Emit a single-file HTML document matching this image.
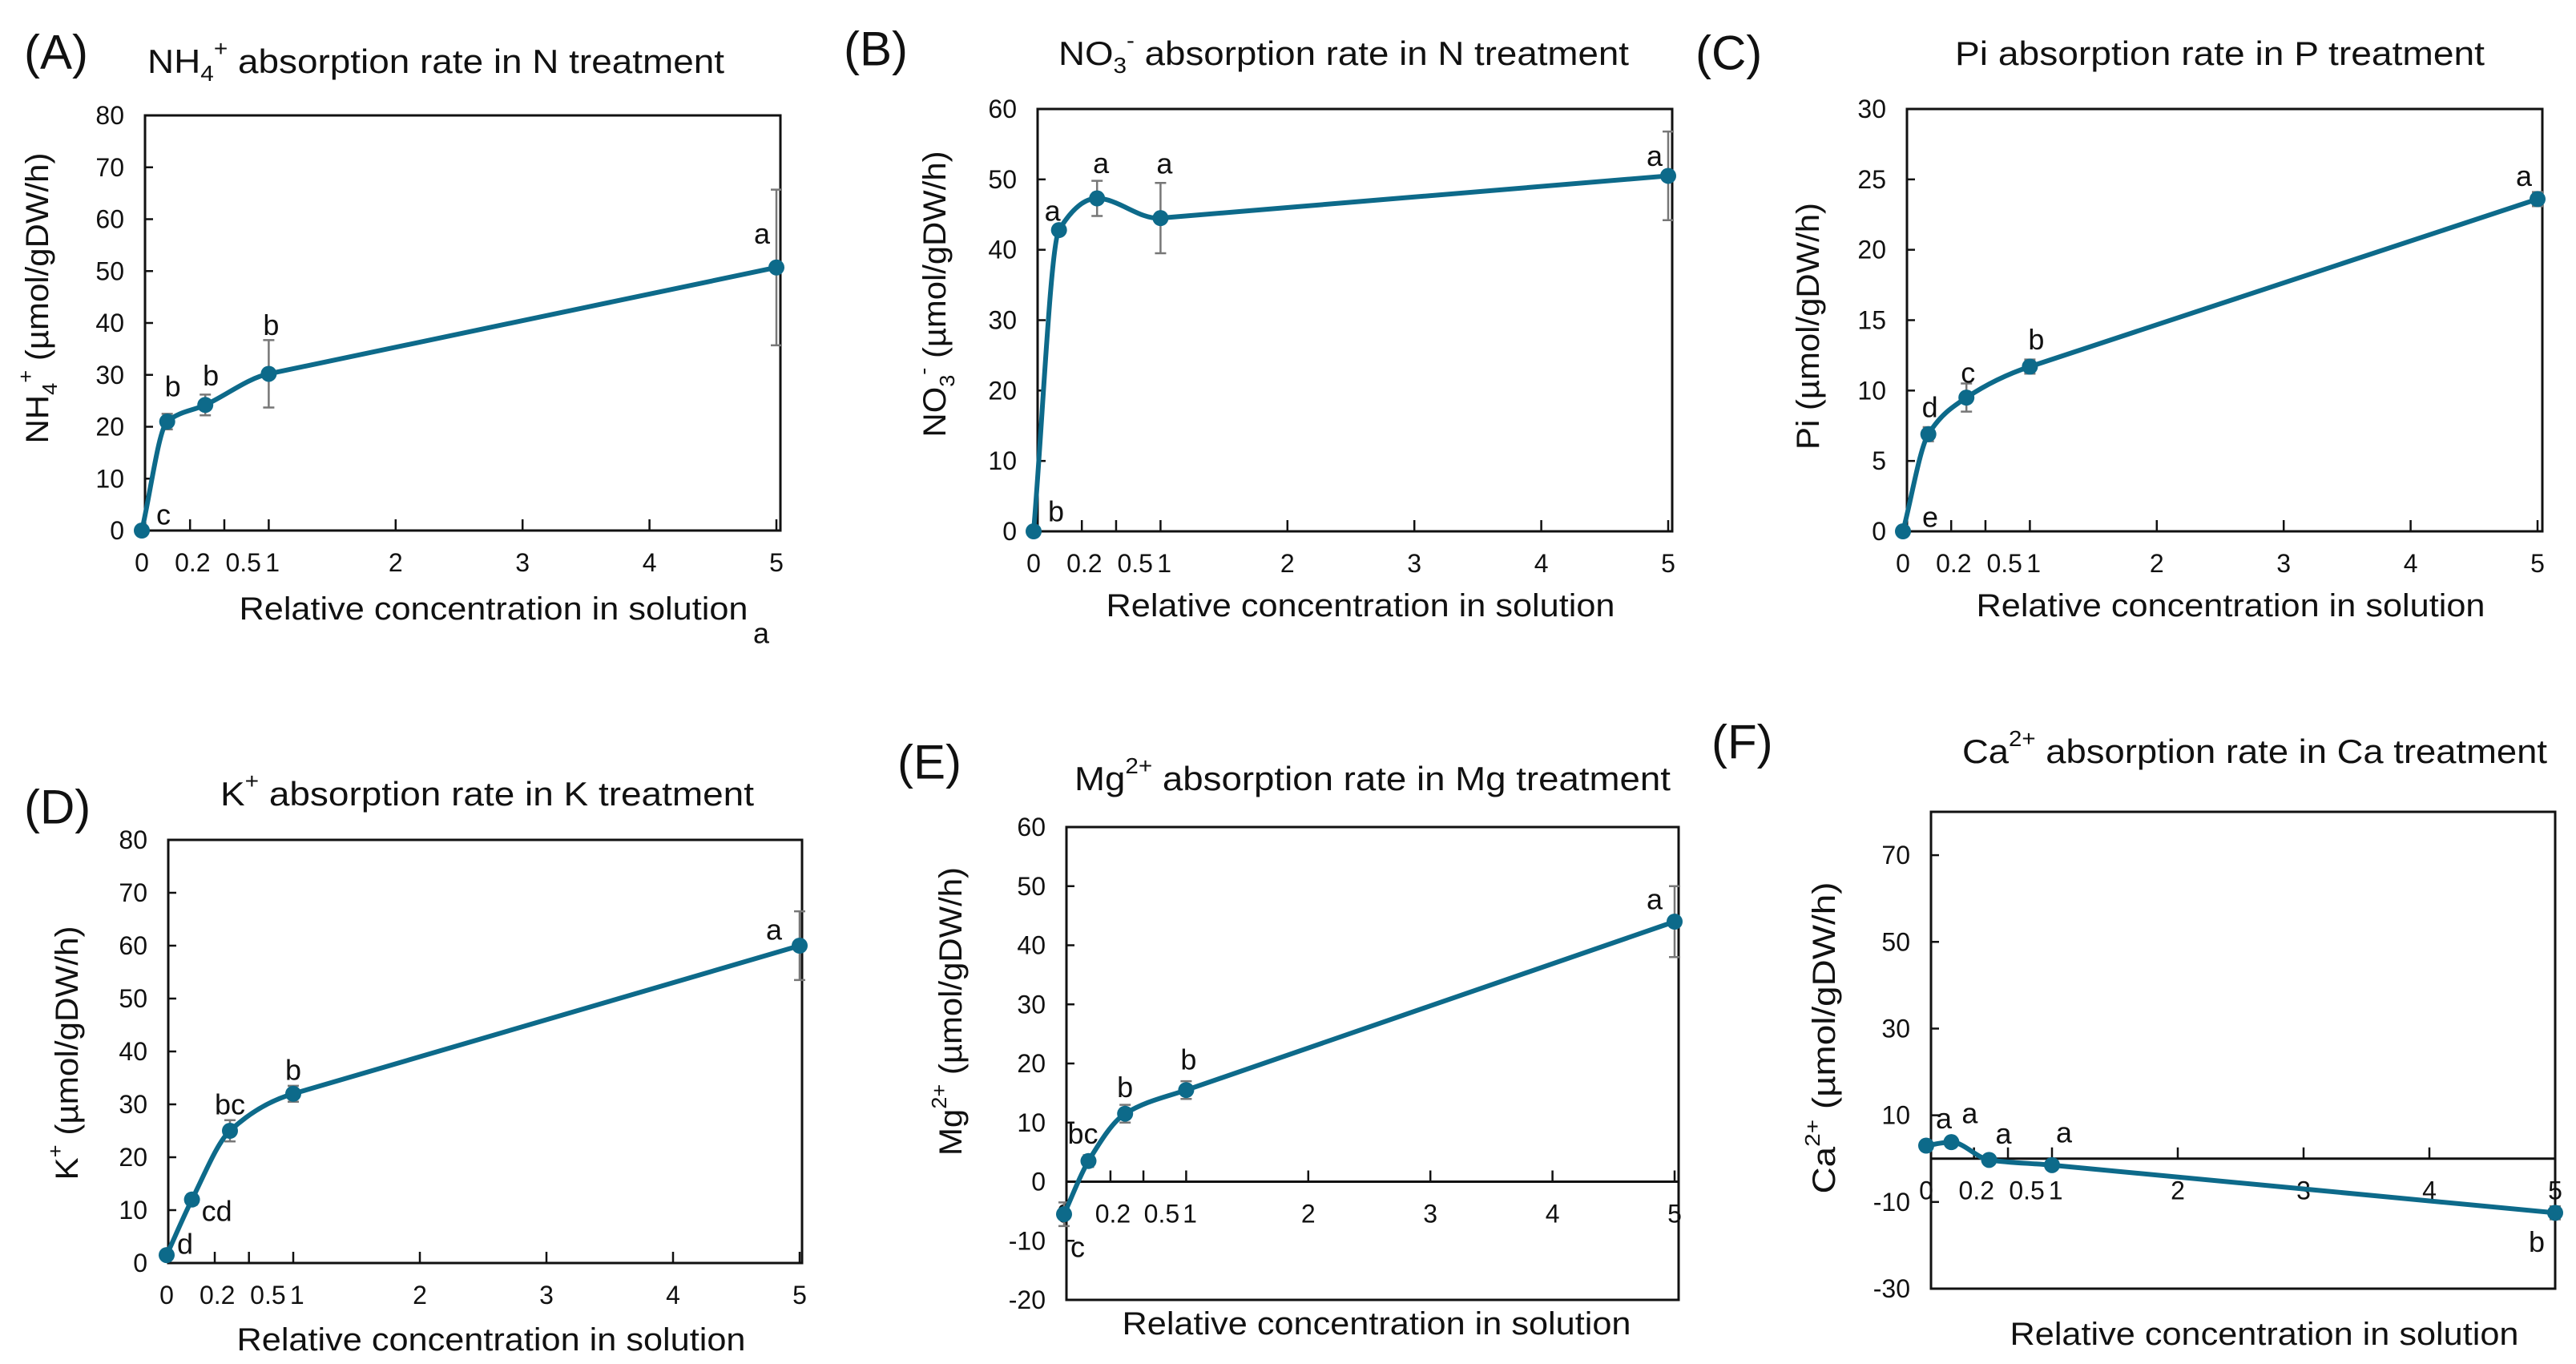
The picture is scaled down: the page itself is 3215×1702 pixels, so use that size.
<!DOCTYPE html>
<html><head><meta charset="utf-8"><style>
html,body{margin:0;padding:0;background:#fff}
svg{display:block}
text{font-family:"Liberation Sans",sans-serif;fill:#111}
</style></head><body>
<svg id="fig" width="3215" height="1702" viewBox="0 0 3215 1702" xmlns="http://www.w3.org/2000/svg"></svg>
<script>
// ---- data ----
const xVals = [0, 0.2, 0.5, 1, 5];
const xTickMarks = [0.38, 0.65, 1, 2, 3, 4, 5];
const xTickLabels = ['0', '0.2', '0.5', '1', '2', '3', '4', '5'];
const xTickLabelVals = [0, 0.4, 0.8, 1.03, 2, 3, 4, 5];

const valsA = [0, 21, 24.2, 30.2, 50.7];
const errA = [0, 1.5, 2, 6.5, 15];
const lettersA = ['c', 'b', 'b', 'b', 'a'];
const yTicksA = [0, 10, 20, 30, 40, 50, 60, 70, 80];

const valsB = [0, 42.8, 47.3, 44.5, 50.5];
const errB = [0, 0.6, 2.5, 5, 6.3];
const lettersB = ['b', 'a', 'a', 'a', 'a'];
const yTicksB = [0, 10, 20, 30, 40, 50, 60];

const valsC = [0, 6.9, 9.5, 11.7, 23.6];
const errC = [0, 0.5, 1, 0.5, 0.5];
const lettersC = ['e', 'd', 'c', 'b', 'a'];
const yTicksC = [0, 5, 10, 15, 20, 25, 30];

const valsD = [1.5, 12, 25, 32, 60];
const errD = [0, 1, 2, 1.5, 6.5];
const lettersD = ['d', 'cd', 'bc', 'b', 'a'];
const yTicksD = [0, 10, 20, 30, 40, 50, 60, 70, 80];

const valsE = [-5.5, 3.5, 11.5, 15.5, 44];
const errE = [2, 1, 1.5, 1.5, 6];
const lettersE = ['c', 'bc', 'b', 'b', 'a'];
const yTicksE = [-20, -10, 0, 10, 20, 30, 40, 50, 60];

const valsF = [3, 3.8, -0.3, -1.5, -12.5];
const errF = [0.5, 0.5, 0.5, 0.5, 1.5];
const lettersF = ['a', 'a', 'a', 'a', 'b'];
const yTicksF = [-30, -10, 10, 30, 50, 70];

// ---- layout ----
const NS = 'http://www.w3.org/2000/svg';
const svg = document.getElementById('fig');
const COL = '#0d6a8a';
function mk(tag, attrs, parent) {
  const e = document.createElementNS(NS, tag);
  for (const k in attrs) e.setAttribute(k, attrs[k]);
  (parent || svg).appendChild(e);
  return e;
}
function richText(parent, parts) {
  parts.forEach(p => {
    const t = document.createElementNS(NS, 'tspan');
    t.textContent = p[0];
    if (p[1] === 'sup') { t.setAttribute('baseline-shift', 'super'); t.setAttribute('font-size', '65%'); }
    if (p[1] === 'sub') { t.setAttribute('baseline-shift', 'sub'); t.setAttribute('font-size', '65%'); }
    parent.appendChild(t);
  });
}
// monotone cubic with straight long segments
function spline(pts) {
  const n = pts.length, dx = [], sl = [], m = [];
  for (let i = 0; i < n - 1; i++) { dx[i] = pts[i + 1][0] - pts[i][0]; sl[i] = (pts[i + 1][1] - pts[i][1]) / dx[i]; }
  m[0] = sl[0]; m[n - 1] = sl[n - 2];
  for (let i = 1; i < n - 1; i++) {
    if (dx[i] > 3 * dx[i - 1]) { m[i] = sl[i]; continue; }
    if (sl[i - 1] * sl[i] <= 0) m[i] = 0;
    else {
      const w1 = 2 * dx[i] + dx[i - 1], w2 = dx[i] + 2 * dx[i - 1];
      m[i] = (w1 + w2) / (w1 / sl[i - 1] + w2 / sl[i]);
    }
  }
  let d = `M${pts[0][0]},${pts[0][1]}`;
  for (let i = 0; i < n - 1; i++) {
    const h = dx[i] / 3;
    d += ` C${pts[i][0] + h},${pts[i][1] + m[i] * h} ${pts[i + 1][0] - h},${pts[i + 1][1] - m[i + 1] * h} ${pts[i + 1][0]},${pts[i + 1][1]}`;
  }
  return d;
}

function panel(c) {
  const g = mk('g', {});
  
  
  const xs = v => c.x0 + v * (c.x5 - c.x0) / 5;
  const ys = v => c.B - (v - c.ymin) * (c.B - c.T) / (c.ymax - c.ymin);
  const axisY = c.zeroAxis ? ys(0) : c.B;

  const lab = mk('text', { x: c.lab[0], y: c.lab[1], 'font-size': 60, 'dominant-baseline': 'central' }, g);
  lab.textContent = '(' + c.id + ')';
  
  

  const ti = mk('text', { x: c.title[0], y: c.title[1], 'font-size': 42, 'dominant-baseline': 'central', textLength: c.title[2], lengthAdjust: 'spacingAndGlyphs' }, g);
  richText(ti, c.titleParts);
  
  

  const box = mk('rect', { x: c.L, y: c.T, width: c.R - c.L, height: c.B - c.T, fill: 'none', stroke: '#111', 'stroke-width': 3 }, g);
  
  
  if (c.zeroAxis) {
    const zl = mk('line', { x1: c.L, x2: c.R, y1: axisY, y2: axisY, stroke: '#111', 'stroke-width': 3 }, g);
    
    
  }

  c.yTicks.forEach(v => {
    const y = ys(v);
    const tk = mk('line', { x1: c.L, x2: c.L + 10, y1: y, y2: y, stroke: '#111', 'stroke-width': 2.5 }, g);
    
    
    const t = mk('text', { x: c.L - 26, y: y, 'font-size': 32, 'text-anchor': 'end', 'dominant-baseline': 'central' }, g);
    t.textContent = v;
    
    
  });
  xTickMarks.forEach(v => {
    const x = xs(v);
    const tk = mk('line', { x1: x, x2: x, y1: axisY, y2: axisY - 14, stroke: '#111', 'stroke-width': 2.5 }, g);
    
    
  });
  xTickLabels.forEach((s, i) => {
    const t = mk('text', { x: xs(xTickLabelVals[i]), y: axisY + 40, 'font-size': 32, 'text-anchor': 'middle', 'dominant-baseline': 'central' }, g);
    t.textContent = s;
    
    
  });

  const xt = mk('text', { x: c.xt[0], y: c.xt[1], 'font-size': 40, 'text-anchor': 'middle', 'dominant-baseline': 'central', textLength: 635, lengthAdjust: 'spacingAndGlyphs' }, g);
  xt.textContent = 'Relative concentration in solution';
  
  

  const yt = mk('text', { x: 0, y: 0, 'font-size': 40, 'text-anchor': 'middle', 'dominant-baseline': 'central', textLength: c.yt[2], lengthAdjust: 'spacingAndGlyphs', transform: `translate(${c.yt[0]},${c.yt[1]}) rotate(-90)` }, g);
  richText(yt, c.ytParts);
  
  

  const pts = c.vals.map((v, i) => [xs(xVals[i]), ys(v)]);
  c.errs.forEach((e, i) => {
    if (!e) return;
    const x = pts[i][0], y1 = ys(c.vals[i] + e), y2 = ys(c.vals[i] - e);
    const eb = mk('path', { d: `M${x},${y1}V${y2}M${x - 7},${y1}H${x + 7}M${x - 7},${y2}H${x + 7}`, stroke: '#777', 'stroke-width': 2.5, fill: 'none' }, g);
    
    
  });
  const ln = mk('path', { d: spline(pts), stroke: COL, 'stroke-width': 6, fill: 'none' }, g);
  
  
  pts.forEach(p => {
    const m = mk('circle', { cx: p[0], cy: p[1], r: 10, fill: COL }, g);
    
    
  });
  c.letters.forEach((s, i) => {
    const t = mk('text', { x: pts[i][0] + c.offs[i][0], y: pts[i][1] + c.offs[i][1], 'font-size': 36, 'text-anchor': 'middle', 'dominant-baseline': 'central' }, g);
    t.textContent = s;
    
    
  });
}

panel({ id: 'A', L: 181, R: 974, T: 144, B: 662, x0: 177, x5: 969, ymin: 0, ymax: 80, yTicks: yTicksA, zeroAxis: false,
  vals: valsA, errs: errA, letters: lettersA, offs: [[27, -20], [7, -44], [7, -37], [3, -61], [-18, -42]],
  lab: [30, 65], title: [184, 76, 720], titleParts: [['NH'], ['4', 'sub'], ['+', 'sup'], [' absorption rate in N treatment']],
  xt: [616, 760], yt: [47, 372, 363], ytParts: [['NH'], ['4', 'sub'], ['+', 'sup'], [' (µmol/gDW/h)']] });
panel({ id: 'B', L: 1295, R: 2087, T: 136, B: 663, x0: 1290, x5: 2082, ymin: 0, ymax: 60, yTicks: yTicksB, zeroAxis: false,
  vals: valsB, errs: errB, letters: lettersB, offs: [[28, -25], [-8, -24], [5, -44], [5, -68], [-17, -25]],
  lab: [1053, 61], title: [1321, 66, 712], titleParts: [['NO'], ['3', 'sub'], ['-', 'sup'], [' absorption rate in N treatment']],
  xt: [1698, 756], yt: [1167, 367, 357], ytParts: [['NO'], ['3', 'sub'], ['-', 'sup'], [' (µmol/gDW/h)']] });
panel({ id: 'C', L: 2380, R: 3173, T: 136, B: 663, x0: 2375, x5: 3167, ymin: 0, ymax: 30, yTicks: yTicksC, zeroAxis: false,
  vals: valsC, errs: errC, letters: lettersC, offs: [[34, -18], [2, -34], [2, -31], [8, -34], [-17, -29]],
  lab: [2116, 66], title: [2440, 66, 661], titleParts: [['Pi absorption rate in P treatment']],
  xt: [2784, 756], yt: [2257, 407, 308], ytParts: [['Pi (µmol/gDW/h)']] });
panel({ id: 'D', L: 210, R: 1001, T: 1048, B: 1576, x0: 208, x5: 998, ymin: 0, ymax: 80, yTicks: yTicksD, zeroAxis: false,
  vals: valsD, errs: errD, letters: lettersD, offs: [[23, -14], [31, 14], [0, -33], [0, -30], [-32, -20]],
  lab: [30, 1007], title: [275, 990, 666], titleParts: [['K'], ['+', 'sup'], [' absorption rate in K treatment']],
  xt: [613, 1672], yt: [84, 1314, 317], ytParts: [['K'], ['+', 'sup'], [' (µmol/gDW/h)']] });
panel({ id: 'E', L: 1331, R: 2095, T: 1032, B: 1622, x0: 1328, x5: 2090, ymin: -20, ymax: 60, yTicks: yTicksE, zeroAxis: true,
  vals: valsE, errs: errE, letters: lettersE, offs: [[17, 41], [-7, -34], [0, -33], [3, -38], [-25, -28]],
  lab: [1120, 951], title: [1341, 971, 744], titleParts: [['Mg'], ['2+', 'sup'], [' absorption rate in Mg treatment']],
  xt: [1718, 1652], yt: [1187, 1262, 360], ytParts: [['Mg'], ['2+', 'sup'], [' (µmol/gDW/h)']] });
panel({ id: 'F', L: 2410, R: 3189, T: 1013, B: 1608, x0: 2404, x5: 3189, ymin: -30, ymax: 80, yTicks: yTicksF, zeroAxis: true,
  vals: valsF, errs: errF, letters: lettersF, offs: [[22, -34], [23, -36], [18, -33], [15, -41], [-23, 36]],
  lab: [2136, 926], title: [2449, 937, 730], titleParts: [['Ca'], ['2+', 'sup'], [' absorption rate in Ca treatment']],
  xt: [2826, 1665], yt: [2277, 1295, 389], ytParts: [['Ca'], ['2+', 'sup'], [' (µmol/gDW/h)']] });

// stray letter under panel A's axis title
const stray = mk('text', { x: 950, y: 790, 'font-size': 36, 'text-anchor': 'middle', 'dominant-baseline': 'central' });
stray.textContent = 'a';


</script>
</body></html>
